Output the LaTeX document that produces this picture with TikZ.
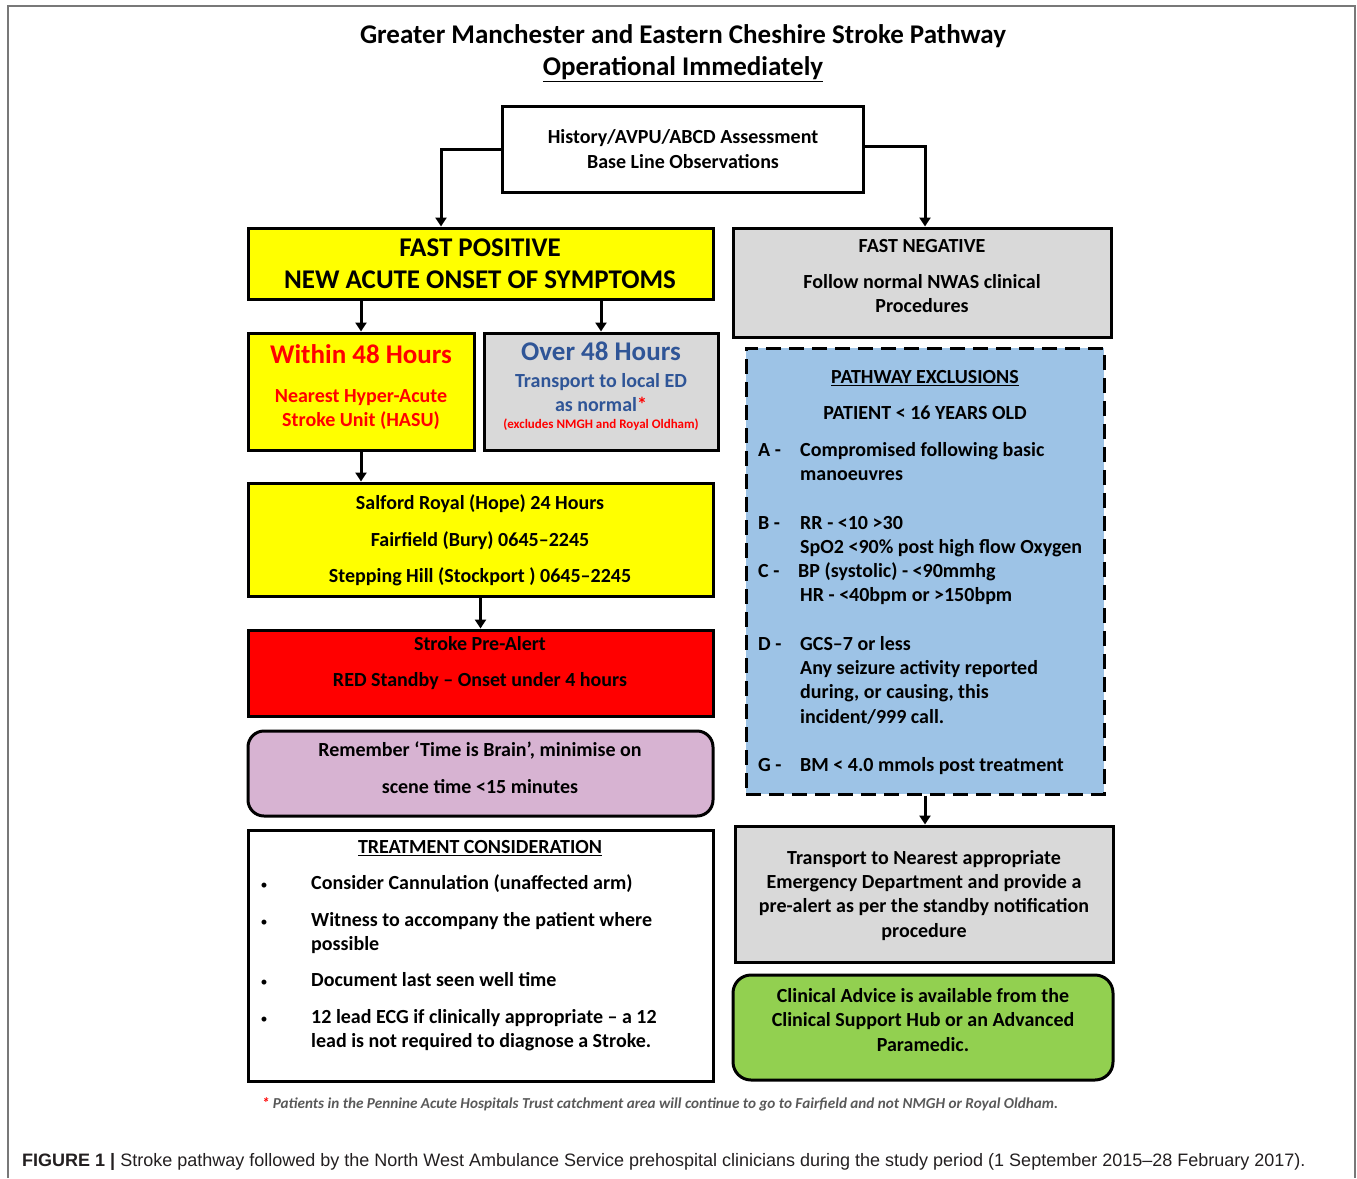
\documentclass[tikz,border=0pt]{standalone}
\usepackage{fontspec}
\setmainfont{Carlito}
\newfontfamily\capfont{Liberation Sans}
\usetikzlibrary{arrows.meta}
\definecolor{ylw}{RGB}{255,255,0}
\definecolor{gry}{RGB}{217,217,217}
\definecolor{rd}{RGB}{255,0,0}
\definecolor{prp}{RGB}{215,179,210}
\definecolor{blu}{RGB}{157,195,230}
\definecolor{grn}{RGB}{146,208,80}
\definecolor{dblue}{RGB}{47,85,151}
\definecolor{framec}{RGB}{120,120,120}
\definecolor{fnote}{RGB}{89,89,89}
\definecolor{capc}{RGB}{35,31,32}
\begin{document}
\begin{tikzpicture}[x=1pt,y=-1pt,
  box/.style={draw=black,line width=3pt,inner sep=0pt,minimum width=#1},
  box/.default=465pt,
  arr/.style={line width=3pt,-{Triangle[length=9pt,width=11pt]}},
  tx/.style={inner sep=0pt,font=\bfseries\fontsize{20}{24}\selectfont,text height=13pt,text depth=0pt},
  bigtx/.style={inner sep=0pt,font=\bfseries\fontsize{27}{32}\selectfont,text height=17.4pt,text depth=0pt},
  smalltx/.style={inner sep=0pt,font=\bfseries\fontsize{13}{15}\selectfont,text height=8.4pt,text depth=0pt},
  lt/.style={tx,anchor=west}]
\useasboundingbox (0,0) rectangle (1357,1178);
% outer frame
\draw[framec,line width=1.6pt] (8,1178) -- (8,6) -- (1355,6) -- (1355,1178);
% title
\node[inner sep=0pt,font=\bfseries\fontsize{27}{32}\selectfont,text height=17pt,text depth=0pt] (title1) at (683,35) {Greater Manchester and Eastern Cheshire Stroke Pathway};
\node[inner sep=0pt,font=\bfseries\fontsize{27}{32}\selectfont,text height=17pt,text depth=0pt] (title2) at (683,67) {\underline{Operational Immediately}};
% boxes
\node[box=361pt,minimum height=86pt,fill=white] (top) at (682.5,149) {};
\node[box,minimum height=71pt,fill=ylw] (fp) at (480.5,263.5) {};
\node[box=378pt,minimum height=109pt,fill=gry] (fn) at (922,282.5) {};
\node[box=226pt,minimum height=117pt,fill=ylw] (w48) at (361,391.5) {};
\node[box=234pt,minimum height=117pt,fill=gry] (o48) at (601,391.5) {};
\node[box,minimum height=113pt,fill=ylw] (sal) at (480.5,539.5) {};
\node[box,minimum height=86pt,fill=rd] (pre) at (480.5,673) {};
\node[box,minimum height=85pt,fill=prp,rounded corners=16pt] (rem) at (480.5,773.5) {};
\node[box,minimum height=251pt,fill=white] (trt) at (480.5,955.5) {};
\node[box=358pt,minimum height=446pt,fill=blu,dash pattern=on 15pt off 8pt] (exc) at (925,571) {};
\node[box=378pt,minimum height=136pt,fill=gry] (trn) at (924,894) {};
\node[box=380pt,minimum height=105pt,fill=grn,rounded corners=18pt] (cli) at (923,1027.5) {};
% connectors
\draw[arr] (top.west) -| ([xshift=-39.5pt]fp.north);
\draw[arr] ([yshift=3pt]top.east) -| ([xshift=3pt]fn.north);
\draw[arr] (fp.south -| w48.north) -- (w48.north);
\draw[arr] (fp.south -| o48.north) -- (o48.north);
\draw[arr] (w48.south) -- (w48.south |- sal.north);
\draw[arr] (sal.south) -- (pre.north);
\draw[arr] (exc.south) -- (exc.south |- trn.north);
% texts: top
\node[tx] (topa) at (683,137) {History/AVPU/ABCD Assessment};
\node[tx] (topb) at (683,162) {Base Line Observations};
% fast positive
\node[bigtx] (fpa) at (480,248) {FAST POSITIVE};
\node[bigtx] (fpb) at (480,280) {NEW ACUTE ONSET OF SYMPTOMS};
% fast negative
\node[tx] (fna) at (922,246) {FAST NEGATIVE};
\node[tx] (fnb) at (922,282) {Follow normal NWAS clinical};
\node[tx] (fnc) at (922,306) {Procedures};
% within 48
\node[bigtx,text=rd] (wa) at (361,355) {Within 48 Hours};
\node[tx,text=rd] (wb) at (361,396) {Nearest Hyper-Acute};
\node[tx,text=rd] (wc) at (361,420) {Stroke Unit (HASU)};
% over 48
\node[bigtx,text=dblue] (oa) at (601,352) {Over 48 Hours};
\node[tx,text=dblue] (ob) at (601,381) {Transport to local ED};
\node[tx,text=dblue] (oc) at (601,405) {as normal\textcolor{rd}{*}};
\node[smalltx,text=rd] (od) at (601,424) {(excludes NMGH and Royal Oldham)};
% salford
\node[tx] (sa) at (480,503) {Salford Royal (Hope) 24 Hours};
\node[tx] (sb) at (480,540) {Fairfield (Bury) 0645–2245};
\node[tx] (sc) at (480,576) {Stepping Hill (Stockport ) 0645–2245};
% pre-alert
\node[tx] (pa) at (480,644) {Stroke Pre-Alert};
\node[tx] (pb) at (480,680) {RED Standby – Onset under 4 hours};
% remember
\node[tx] (ra) at (480,750) {Remember ‘Time is Brain’, minimise on};
\node[tx] (rb) at (480,787) {scene time <15 minutes};
% treatment
\node[tx] (ta) at (480,847) {\underline{TREATMENT CONSIDERATION}};
\foreach \yy/\nm in {883/b1,920/b2,980/b3,1017/b4}
  \node[tx,font=\fontsize{14}{16}\selectfont] (\nm) at (264,\yy) {•};
\node[lt] (tb) at (311,883) {Consider Cannulation (unaffected arm)};
\node[lt] (tc) at (311,920) {Witness to accompany the patient where};
\node[lt] (td) at (311,944) {possible};
\node[lt] (te) at (311,980) {Document last seen well time};
\node[lt] (tf) at (311,1017) {12 lead ECG if clinically appropriate – a 12};
\node[lt] (tg) at (311,1041) {lead is not required to diagnose a Stroke.};
% exclusions
\node[tx] (ea) at (925,377) {\underline{PATHWAY EXCLUSIONS}};
\node[tx] (eb) at (925,413) {PATIENT < 16 YEARS OLD};
\node[lt] (la) at (758,450) {A -};
\node[lt] (lb) at (758,523) {B -};
\node[lt] (lc) at (758,571) {C -};
\node[lt] (ld) at (758,644) {D -};
\node[lt] (lg) at (758,765) {G -};
\node[lt] (e1) at (800,450) {Compromised following basic};
\node[lt] (e2) at (800,474) {manoeuvres};
\node[lt] (e3) at (800,523) {RR - <10 >30};
\node[lt] (e4) at (800,547) {SpO2 <90\% post high flow Oxygen};
\node[lt] (e5) at (798,571) {BP (systolic) - <90mmhg};
\node[lt] (e6) at (800,595) {HR - <40bpm or >150bpm};
\node[lt] (e7) at (800,644) {GCS–7 or less};
\node[lt] (e8) at (800,668) {Any seizure activity reported};
\node[lt] (e9) at (800,692) {during, or causing, this};
\node[lt] (e10) at (800,717) {incident/999 call.};
\node[lt] (e11) at (800,765) {BM < 4.0 mmols post treatment};
% transport
\node[tx] (na) at (924,858) {Transport to Nearest appropriate};
\node[tx] (nb) at (924,882) {Emergency Department and provide a};
\node[tx] (nc) at (924,906) {pre-alert as per the standby notification};
\node[tx] (nd) at (924,931) {procedure};
% clinical
\node[tx] (ca) at (923,996) {Clinical Advice is available from the};
\node[tx] (cb) at (923,1020) {Clinical Support Hub or an Advanced};
\node[tx] (cc) at (923,1045) {Paramedic.};
% footnote
\node[inner sep=0pt,font=\bfseries\itshape\fontsize{15.2}{17}\selectfont,text=fnote,text height=10pt,text depth=0pt] (foot) at (660,1103) {\textcolor{rd}{*} Patients in the Pennine Acute Hospitals Trust catchment area will continue to go to Fairfield and not NMGH or Royal Oldham.};
% caption
\node[inner sep=0pt,anchor=west,font=\capfont\fontsize{18}{20}\selectfont,text=capc,text height=13pt,text depth=0pt] (cap) at (22,1160) {\textbf{FIGURE 1 |} Stroke pathway followed by the North West Ambulance Service prehospital clinicians during the study period (1 September 2015–28 February 2017).};
\end{tikzpicture}
\end{document}
